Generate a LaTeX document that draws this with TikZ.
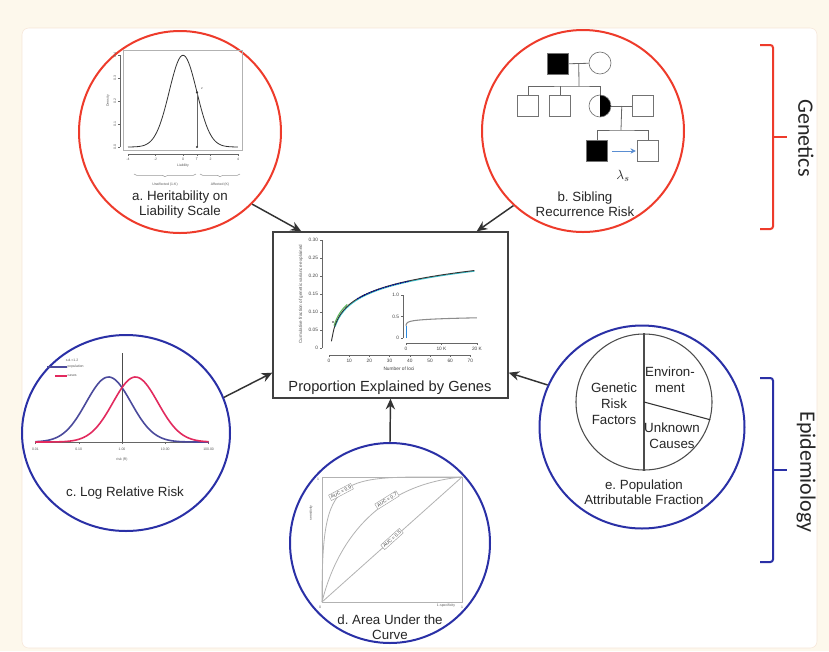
\documentclass[tikz,border=0pt]{standalone}
\usepackage{fontspec}
\setmainfont{Liberation Sans}
\newfontfamily\sidefont{Carlito}
\usepackage{tikz}
\usetikzlibrary{arrows.meta, positioning, calc, shapes.geometric, decorations.pathreplacing}
\definecolor{genred}{HTML}{EE3B2B}
\definecolor{epiblue}{HTML}{2A30A6}
\definecolor{cream}{HTML}{FDF8EC}
\definecolor{panelline}{HTML}{F6E6D8}
\definecolor{popblue}{HTML}{4B4A9C}
\definecolor{casered}{HTML}{E22A5E}
\definecolor{lamblue}{HTML}{5A8ED2}
\definecolor{cyanc}{HTML}{3CC3CF}
\definecolor{greenc}{HTML}{5DBB5D}
\frenchspacing
\tikzset{
  topic/.style={draw, line width=1.5pt, inner sep=0pt},
  topicgen/.style={topic, circle, draw=genred},
  topicepi/.style={topic, ellipse, draw=epiblue},
  ttl/.style={font=\fontsize{10}{11.3}\selectfont, align=center, text=black!85},
  feed/.style={-{Stealth[length=8pt,width=7pt]}, line width=1.1pt, draw=black!80},
  ticklbl/.style={font=\fontsize{3.6}{4.2}\selectfont, text=black!75, inner sep=0.5pt},
  microlbl/.style={font=\fontsize{2.6}{3}\selectfont, text=black!65, inner sep=0.3pt},
  plotframe/.style={line width=0.4pt, draw=black!30},
  axisln/.style={line width=0.3pt, draw=black!60},
  kin/.style={line width=0.6pt, draw=black!60},
  ind/.style={draw=black!55, line width=0.5pt, inner sep=0pt},
  male/.style={ind, rectangle, minimum size=15.75pt},
  female/.style={ind, circle, minimum size=16.5pt},
  halfaff/.style={path picture={\fill (path picture bounding box.north)
      rectangle (path picture bounding box.south east);}},
  lamarrow/.style={-{Stealth[length=4pt,width=4pt]}, line width=0.7pt, draw=lamblue},
  aucbox/.style={ticklbl, draw=black!40, fill=white, line width=0.3pt, inner sep=1pt},
  roc/.style={line width=0.6pt, draw=black!30},
  pietxt/.style={font=\fontsize{10}{12}\selectfont, align=center, text=black!85},
  sidebrk/.style={line width=1.5pt, rounded corners=2pt},
  sidelbl/.style={font=\sidefont\fontsize{16.5}{18}\selectfont, rotate=-90, text=black!85}
}

\begin{document}
\begin{tikzpicture}[x=0.75pt, y=-0.75pt]

  % page and panel
  \fill[cream] (0,0) rectangle (829,651);
  \draw[panelline, fill=white, rounded corners=5pt] (22,28) rectangle (817,648);
  \useasboundingbox (0,0) rectangle (829,651);

  % the five topics and the summary box
  \node[topicgen, minimum size=151.5pt] (heri) at (180,132) {};
  \node[topicgen, minimum size=151.5pt] (sibrisk) at (583,131) {};
  \node[topicepi, minimum width=156pt, minimum height=147pt] (logrr) at (126,433) {};
  \node[topicepi, minimum width=150pt, minimum height=150pt] (auc) at (390,543) {};
  \node[topicepi, minimum width=153.75pt, minimum height=152.25pt] (paf) at (642,427) {};

  \node[draw=black!75, line width=1pt, minimum width=176.25pt, minimum height=124.5pt,
        inner sep=0pt] (box) at (390.5,315) {};
  \node[font=\fontsize{11}{13}\selectfont, text=black!85] (boxlbl) at (390,388)
        {Proportion Explained by Genes};

  \draw[feed] (heri.-45) -- ($(box.north west)+(29,0)$);
  \draw[feed] (sibrisk.-133) -- ($(box.north east)+(-32,0)$);
  \draw[feed] (logrr.20) -- ($(box.south west)+(0,-26)$);
  \draw[feed] (paf.156) -- ($(box.south east)+(0,-26)$);
  \draw[feed] (auc.north) -- (box.south);

  % a. liability threshold
  \draw[plotframe] (123,50) rectangle (242,150);
  \draw[line width=0.6pt, black!80] plot[domain=-4:4, samples=81, smooth]
        ({183+13.75*\x}, {147-91.75*exp(-(\x)*(\x)/2)});
  \draw[kin] (197,92.4) -- (197,147);
  \fill[black!80] (197,92.4) circle (0.9pt);
  \fill[black!80] (197,147) circle (0.9pt);
  \node[microlbl] (zlbl) at (202,89) {z};
  \draw[axisln] (128,154) -- (238,154);
  \foreach \u in {-4,-2,0,2,4}{
    \draw[axisln] ({183+13.75*\u},154) -- ++(0,2);
    \node[microlbl] (xa\u) at ({183+13.75*\u},159) {\u};
  }
  \draw[axisln] (197,154) -- ++(0,2);
  \node[microlbl] (tlbl) at (197,159) {T};
  \draw[axisln] (120,55) -- (120,147);
  \foreach \v/\l in {0/0.0, 0.1/0.1, 0.2/0.2, 0.3/0.3, 0.4/0.4}{
    \draw[axisln] (120,{147-230*\v}) -- ++(-2,0);
    \node[microlbl, rotate=90] at (115,{147-230*\v}) {\l};
  }
  \node[microlbl] (liab) at (183,166) {Liability};
  \node[microlbl, rotate=90] (dens) at (108,101) {Density};
  \draw[line width=0.4pt, black!40, decorate, decoration={brace, mirror, amplitude=2pt}]
        (134,174) -- (196,174);
  \draw[line width=0.4pt, black!40, decorate, decoration={brace, mirror, amplitude=2pt}]
        (200,174) -- (240,174);
  \node[microlbl] (unaff) at (165,185) {Unaffected (1-K)};
  \node[microlbl] (aff) at (220,185) {Affected (K)};
  \node[ttl] (ttla) at (180,205) {a. Heritability on\\Liability Scale};

  % b. pedigree
  \node[male, fill=black] (gpa) at (558,64) {};
  \node[female] (gma) at (600,63) {};
  \draw[kin] (gpa) -- (gma);
  \coordinate (sib1) at (579,86);
  \draw[kin] ($(gpa.east)!0.5!(gma.west)$) -- (sib1);
  \node[male] (bro1) at (528,106) {};
  \node[male] (bro2) at (560,106) {};
  \node[female, halfaff] (mom) at (600,106) {};
  \node[male] (dad) at (643,106) {};
  \draw[kin] (bro1.north) |- (sib1) -| (mom.north);
  \draw[kin] (bro2.north) -- (bro2.north |- sib1);
  \draw[kin] (mom) -- (dad);
  \coordinate (sib2) at (621,130);
  \draw[kin] ($(mom.east)!0.5!(dad.west)$) -- (sib2);
  \node[male, fill=black] (prob) at (597,151) {};
  \node[male] (sibl) at (648,151) {};
  \draw[kin] (prob.north) |- (sib2) -| (sibl.north);
  \draw[lamarrow, shorten <=3pt, shorten >=1pt] (prob) -- (sibl);
  \node[font=\fontsize{10}{12}\selectfont, text=black!85] (lams) at (623,176) {$\lambda_s$};
  \node[ttl] (ttlb) at (585,204) {b. Sibling\\Recurrence Risk};

  % c. log relative risk
  \draw[line width=0.5pt, black!70] (122,353) -- (122,442);
  \draw[axisln] (35,442) -- (208,442);
  \foreach \u/\l in {-2/0.01, -1/0.10, 0/1.00, 1/10.00, 2/100.00}{
    \draw[axisln] ({122+43.3*\u},442) -- ++(0,1.5);
    \node[microlbl] at ({122+43.3*\u},449) {\l};
  }
  \node[microlbl] (riskr) at (122,460) {risk (R)};
  \draw[popblue, line width=1.2pt] plot[domain=-2:2, samples=90, smooth]
        ({122+43.3*\x}, {442-65*exp(-((\x)+0.31)*((\x)+0.31)/0.54)});
  \draw[casered, line width=1.2pt] plot[domain=-2:2, samples=90, smooth]
        ({122+43.3*\x}, {442-65*exp(-((\x)-0.31)*((\x)-0.31)/0.54)});
  \node[microlbl] (sdlbl) at (72,360) {s.d.=1.2};
  \draw[popblue, line width=1.2pt] (47,367) -- (67,367);
  \node[microlbl, anchor=west] (poplbl) at (67,367) {population};
  \draw[casered, line width=1.2pt] (55,376) -- (67,376);
  \node[microlbl, anchor=west] (caselbl) at (67,376) {cases};
  \node[ttl] (ttlc) at (125,493) {c. Log Relative Risk};

  % d. ROC curves
  \draw[plotframe] (322,477) rectangle (462,602);
  \draw[roc] (322,602) -- (462,477);
  \draw[roc] (322,602) .. controls (336,545) and (375,485) .. (462,477);
  \draw[roc] (322,602) .. controls (322,470) and (335,477) .. (462,477);
  \node[aucbox, rotate=28] (auc9) at (341,492) {AUC = 0.9};
  \node[aucbox, rotate=32] (auc7) at (387,500) {AUC = 0.7};
  \node[aucbox, rotate=42] (auc5) at (392,539) {AUC = 0.5};
  \node[microlbl, rotate=90] (sens) at (311,513) {sensitivity};
  \node[microlbl] (spec) at (446,606) {1-specificity};
  \node[microlbl] (zero) at (320,607) {0};
  \node[microlbl] (onex) at (462,607) {1};
  \node[microlbl] (oney) at (318,479) {1};
  \node[ttl] (ttld) at (390,627) {d. Area Under the\\Curve};

  % e. attributable fraction
  \node[draw=black!70, line width=0.8pt, circle, minimum size=102pt, inner sep=0pt]
        (pie) at (644,402) {};
  \draw[line width=0.8pt, black!70] (pie.north) -- (pie.south);
  \draw[line width=0.8pt, black!80] (pie.center) -- (pie.-15);
  \node[pietxt] (genrf) at (614,404) {Genetic\\Risk\\Factors};
  \node[pietxt] (envir) at (670,380) {Environ-\\ment};
  \node[pietxt] (unkn) at (672,436) {Unknown\\Causes};
  \node[ttl] (ttle) at (644,492) {e. Population\\Attributable Fraction};

  % summary plot
  \draw[axisln] (322,240) -- (322,348);
  \foreach \v/\l in {0/0, 0.05/0.05, 0.1/0.10, 0.15/0.15, 0.2/0.20, 0.25/0.25, 0.3/0.30}{
    \draw[axisln] (322,{348-360*\v}) -- ++(-2,0);
    \node[ticklbl, anchor=east] at (319,{348-360*\v}) {\l};
  }
  \draw[axisln] (329,355) -- (470.4,355);
  \foreach \n in {0,10,...,70}{
    \draw[axisln] ({329+2.02*\n},355) -- ++(0,2);
    \node[ticklbl] at ({329+2.02*\n},361) {\n};
  }
  \node[ticklbl] (nloci) at (399,369) {Number of loci};
  \node[microlbl, rotate=90, font=\fontsize{3.4}{4}\selectfont] (cumfrac) at (301,294)
        {Cumulative fraction of genetic variance explained};
  \draw[cyanc, line width=0.8pt] plot[domain=3:72, samples=50, smooth]
        ({329+2.02*\x}, {348-360*(0.006+0.0485*ln(\x))});
  \draw[greenc, line width=0.8pt] plot[domain=2.5:9, samples=20, smooth]
        ({329+2.02*\x}, {348-360*(0.02+0.046*ln(\x))});
  \draw[black!80, line width=0.7pt] plot[domain=1.2:72, samples=60, smooth]
        ({329+2.02*\x}, {348-360*(0.01+0.048*ln(\x))});
  \draw[blue!60!black, line width=0.9pt, densely dotted] plot[domain=14:40, samples=20, smooth]
        ({329+2.02*\x}, {348-360*(0.012+0.0472*ln(\x))});
  \fill[black!80] (333,322) circle (0.7pt);
  % inset
  \draw[axisln] (403,295) -- (403,338);
  \foreach \v/\l in {0/0, 0.5/0.5, 1/1.0}{
    \draw[axisln] (403,{338-43*\v}) -- ++(-2,0);
    \node[ticklbl, anchor=east] at (400,{338-43*\v}) {\l};
  }
  \draw[axisln] (406,343) -- (477,343);
  \foreach \t/\l in {0/0, 0.5/10 K, 1/20 K}{
    \draw[axisln] ({406+71*\t},343) -- ++(0,2);
    \node[ticklbl] at ({406+71*\t},349) {\l};
  }
  \draw[black!45, line width=0.8pt] plot[domain=0.15:1, samples=50, smooth]
        ({406+71*(\x)^4}, {338-20.2*(\x)^0.28});
  \draw[cyanc!70!blue, line width=0.8pt] (406.5,338) -- (406.5,326);

  % side brackets
  \draw[sidebrk, genred] (760,45) -- (773,45) -- (773,229) -- (760,229);
  \draw[sidebrk, genred] (773,137) -- (787,137);
  \node[sidelbl] (genlbl) at (806,138) {Genetics};
  \draw[sidebrk, epiblue] (760,378) -- (773,378) -- (773,562) -- (760,562);
  \draw[sidebrk, epiblue] (773,470) -- (787,470);
  \node[sidelbl] (epilbl) at (806,472) {Epidemiology};

\end{tikzpicture}
\end{document}
